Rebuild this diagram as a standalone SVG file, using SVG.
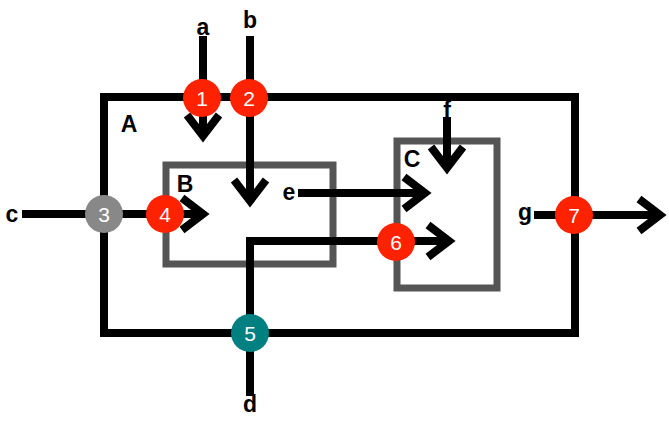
<svg xmlns="http://www.w3.org/2000/svg" width="669" height="422" viewBox="0 0 669 422">
<style>
.box{fill:none;stroke-width:8}
.outer{stroke:#000}
.inner{stroke:#555;stroke-width:7}
.wire{fill:none;stroke:#000;stroke-width:8;marker-end:url(#chev)}
.lbl{font-family:"Liberation Sans",Arial,sans-serif;font-weight:bold;font-size:23px;fill:#000;text-anchor:middle}
.num{font-family:"Liberation Sans",Arial,sans-serif;font-size:21px;fill:#fff;text-anchor:middle}
.red{fill:#ff2200}
.grey{fill:#888}
.teal{fill:#008080}
</style>
<defs>
<marker id="chev" markerUnits="userSpaceOnUse" orient="auto" refX="0" refY="0" markerWidth="40" markerHeight="40" viewBox="-34 -20 40 40" overflow="visible">
<path d="M-21,-16 L0,0 L-21,16" fill="none" stroke="#000" stroke-width="8"/>
</marker>
</defs>
<g id="A"><rect class="box outer" x="104" y="97" width="471" height="236"/><text class="lbl" x="129" y="132">A</text></g>
<g id="B"><rect class="box inner" x="166" y="165" width="167" height="99"/><text class="lbl" x="185" y="192">B</text></g>
<g id="C"><rect class="box inner" x="397" y="141" width="100" height="147"/><text class="lbl" x="412" y="167">C</text></g>
<g id="connectors">
<path class="wire" d="M203,36 V136"/>
<path class="wire" d="M250,36 V201"/>
<path class="wire" d="M22,214 H203"/>
<path class="wire" d="M298,193 H425"/>
<path class="wire" d="M250,396 V241 H449"/>
<path class="wire" d="M447,117 V168"/>
<path class="wire" d="M534,215 H660"/>
</g>
<g id="labels">
<text class="lbl" x="203" y="35">a</text>
<text class="lbl" x="250" y="28">b</text>
<text class="lbl" x="12" y="222">c</text>
<text class="lbl" x="250" y="412">d</text>
<text class="lbl" x="289" y="200">e</text>
<text class="lbl" x="447" y="118">f</text>
<text class="lbl" x="525" y="220">g</text>
</g>
<g id="n1"><circle class="red" cx="202" cy="98" r="19"/><text class="num" x="202" y="106">1</text></g>
<g id="n2"><circle class="red" cx="249" cy="98" r="19"/><text class="num" x="249" y="106">2</text></g>
<g id="n3"><circle class="grey" cx="104" cy="214" r="19"/><text class="num" x="104" y="222">3</text></g>
<g id="n4"><circle class="red" cx="165" cy="214" r="19"/><text class="num" x="165" y="222">4</text></g>
<g id="n5"><circle class="teal" cx="250" cy="333" r="19"/><text class="num" x="250" y="341">5</text></g>
<g id="n6"><circle class="red" cx="396" cy="242" r="19"/><text class="num" x="396" y="250">6</text></g>
<g id="n7"><circle class="red" cx="574" cy="215" r="19"/><text class="num" x="574" y="223">7</text></g>
</svg>
